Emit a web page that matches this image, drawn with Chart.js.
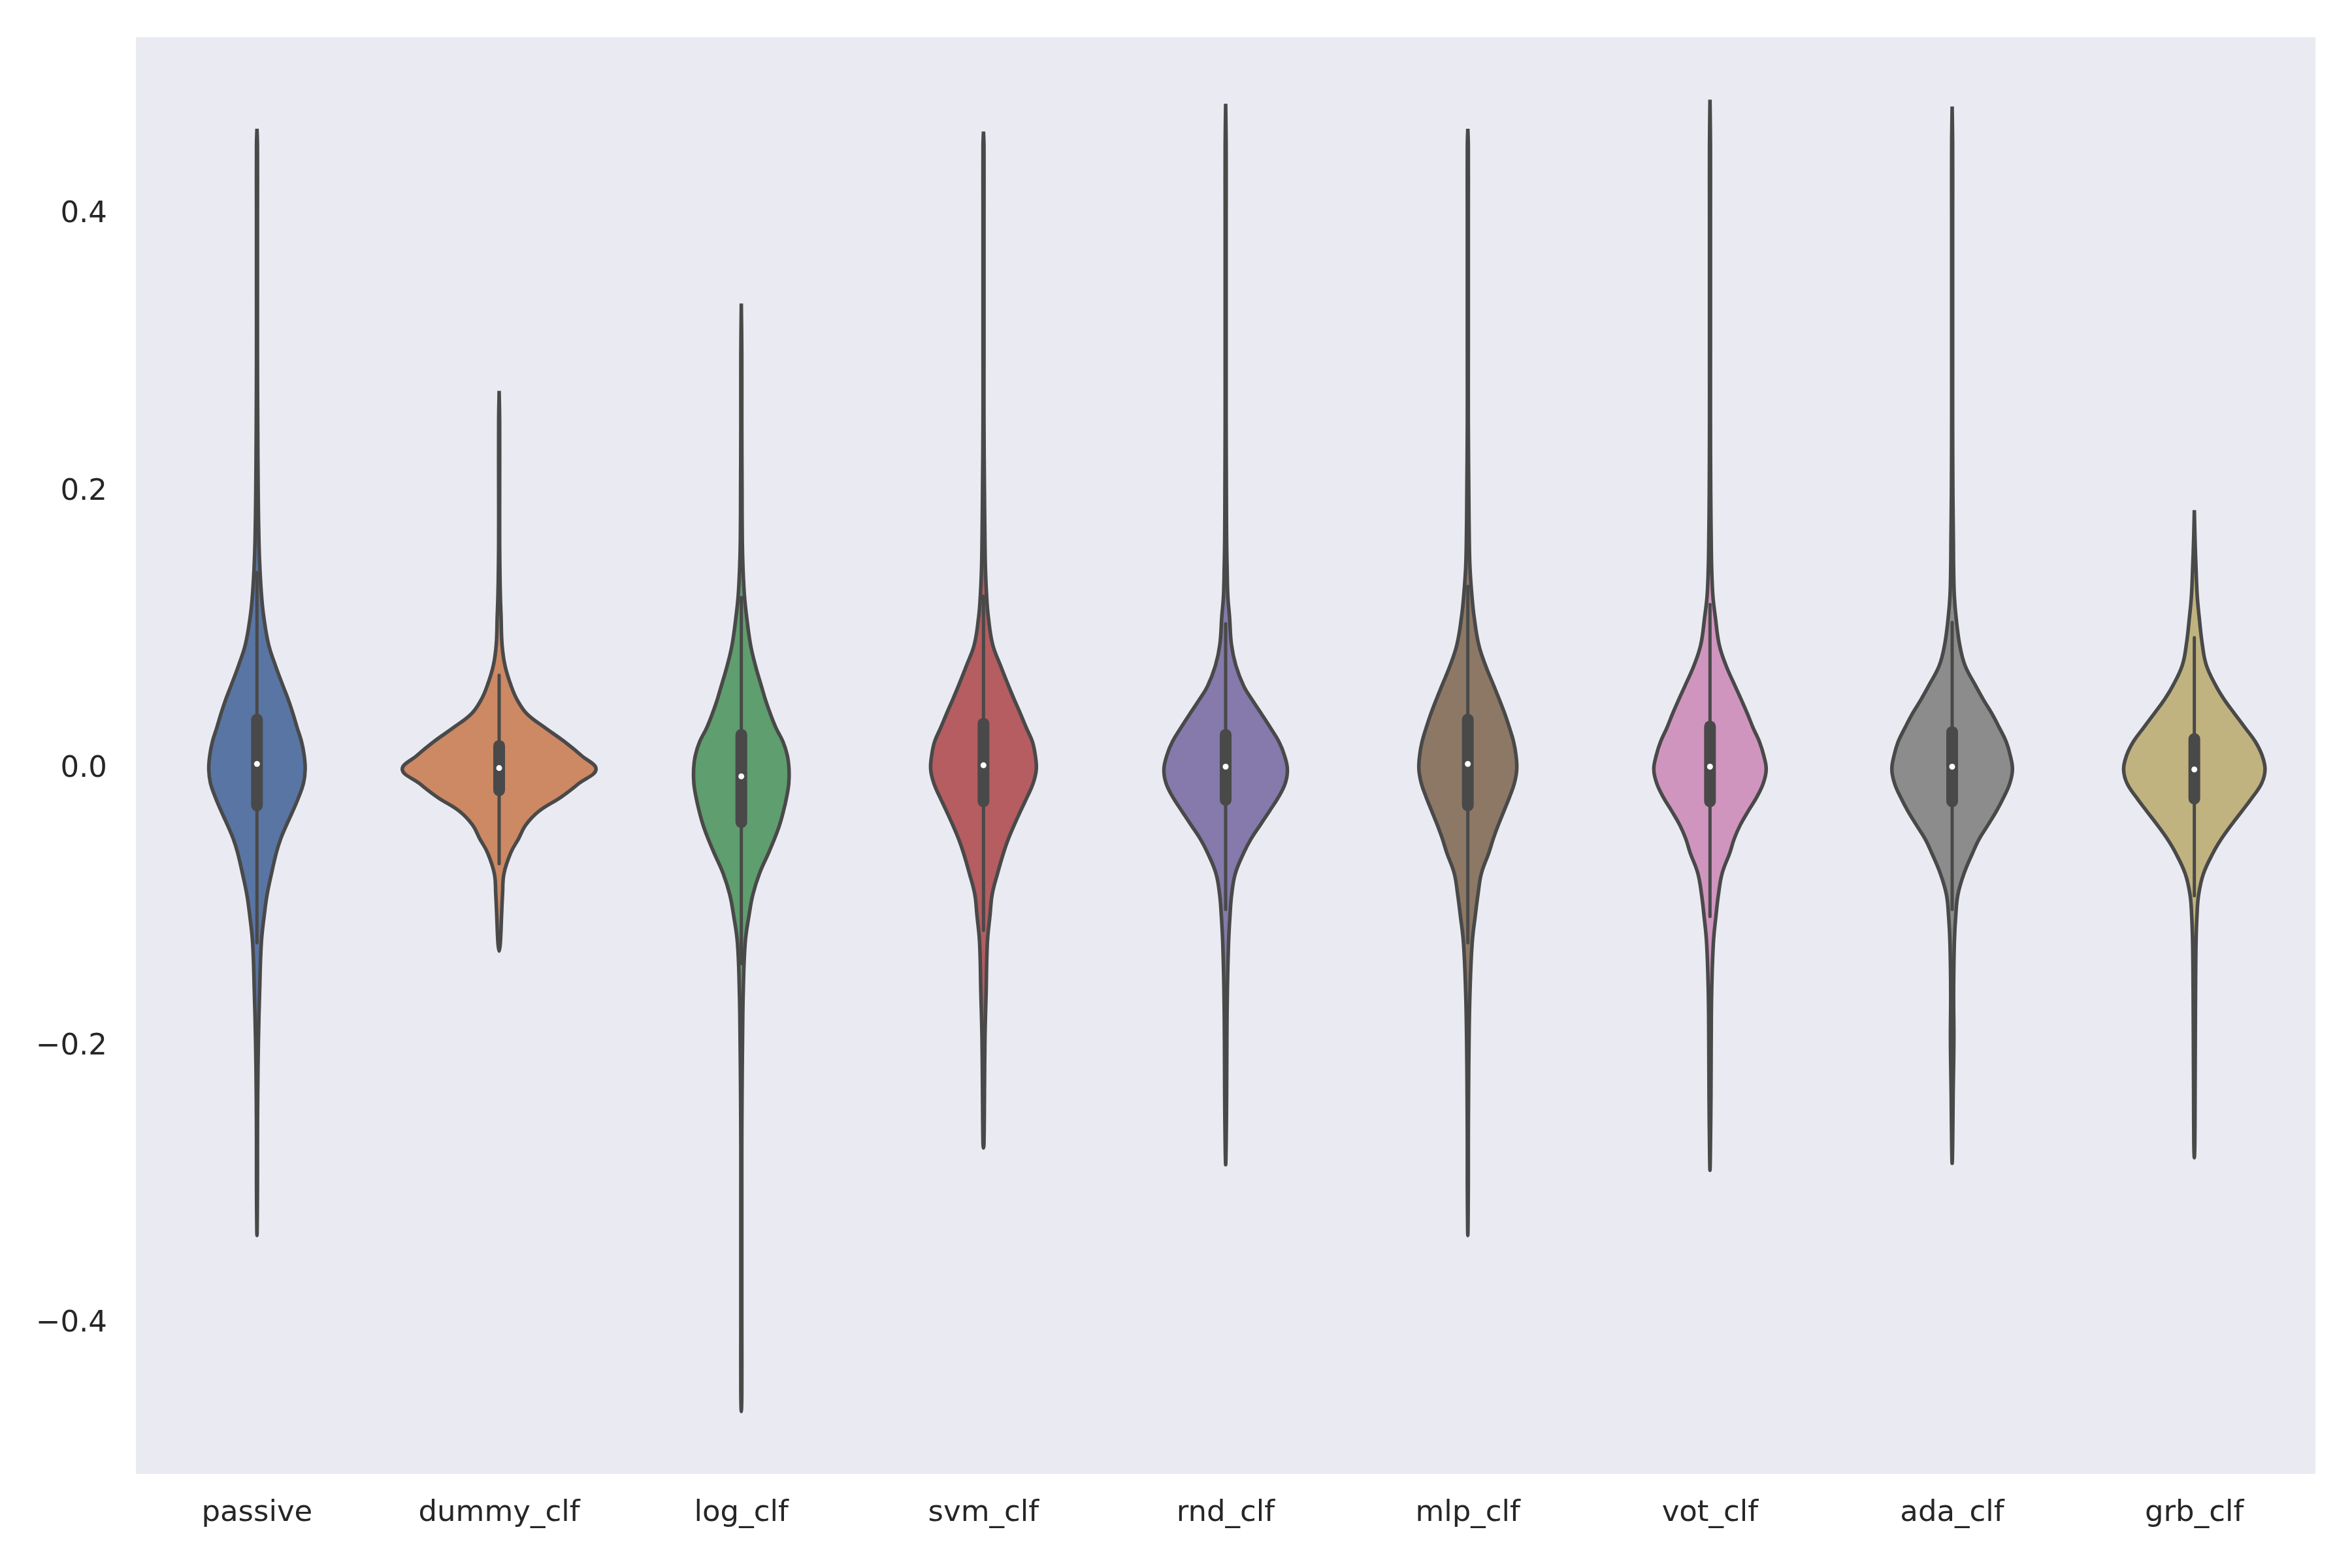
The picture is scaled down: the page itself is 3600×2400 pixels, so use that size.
<!DOCTYPE html>
<html>
<head>
<meta charset="utf-8">
<script src="https://cdn.jsdelivr.net/npm/chart.js@4.4.1/dist/chart.umd.min.js"></script>
<style>
  html, body { margin: 0; padding: 0; background: #ffffff; }
  canvas { display: block; }
</style>
</head>
<body>
<canvas id="c" width="3600" height="2400"></canvas>
<script>
// ---------- data ----------
const categories = ['passive', 'dummy_clf', 'log_clf', 'svm_clf', 'rnd_clf', 'mlp_clf', 'vot_clf', 'ada_clf', 'grb_clf'];

const yTicks = [-0.4, -0.2, 0.0, 0.2, 0.4];

// y levels at which the violin half-widths (in category units) were read
const densityLevels = [0.45, 0.40, 0.35, 0.30, 0.25, 0.20, 0.165, 0.145, 0.125, 0.11, 0.09, 0.075, 0.06, 0.05, 0.04, 0.03, 0.02, 0.01, 0.0,
  -0.01, -0.02, -0.03, -0.04, -0.05, -0.06, -0.075, -0.09, -0.105, -0.125, -0.16, -0.195, -0.235, -0.27, -0.30, -0.35, -0.40, -0.45];

const passiveWidth = [0.002,0.002,0.002,0.002,0.003,0.005,0.008,0.012,0.019,0.028,0.048,0.076,0.108,0.130,0.149,0.166,0.184,0.195,0.199,
  0.192,0.172,0.148,0.122,0.098,0.080,0.060,0.042,0.030,0.018,0.011,0.006,0.003,0.002,0.002,null,null,null];
const dummyWidth = [null,null,null,null,0.002,0.002,0.002,0.003,0.005,0.008,0.012,0.024,0.050,0.075,0.115,0.190,0.270,0.340,0.400,
  0.330,0.255,0.165,0.110,0.080,0.048,0.020,0.014,0.010,0.005,null,null,null,null,null,null,null,null];
const logWidth = [null,null,null,0.002,0.002,0.003,0.004,0.007,0.013,0.022,0.038,0.058,0.083,0.100,0.120,0.143,0.172,0.190,0.197,
  0.196,0.187,0.174,0.158,0.137,0.113,0.075,0.048,0.032,0.016,0.008,0.005,0.003,0.002,0.002,0.002,0.002,0.002];
const svmWidth = [0.002,0.002,0.002,0.002,0.002,0.004,0.006,0.008,0.013,0.020,0.038,0.070,0.104,0.128,0.153,0.177,0.202,0.214,0.218,
  0.205,0.180,0.153,0.127,0.103,0.083,0.058,0.036,0.027,0.016,0.011,0.006,0.004,0.002,null,null,null,null];
const rndWidth = [0.002,0.002,0.002,0.002,0.002,0.003,0.004,0.006,0.009,0.016,0.024,0.042,0.075,0.110,0.148,0.185,0.220,0.243,0.255,
  0.246,0.218,0.181,0.143,0.105,0.075,0.040,0.025,0.018,0.012,0.007,0.005,0.004,0.002,null,null,null,null];
const mlpWidth = [0.002,0.002,0.002,0.002,0.002,0.004,0.006,0.009,0.017,0.026,0.045,0.073,0.108,0.131,0.153,0.172,0.189,0.199,0.202,
  0.192,0.172,0.149,0.126,0.105,0.087,0.056,0.042,0.031,0.018,0.009,0.005,0.003,0.002,0.002,null,null,null];
const votWidth = [0.002,0.002,0.002,0.002,0.002,0.003,0.005,0.007,0.012,0.022,0.038,0.066,0.104,0.130,0.155,0.178,0.204,0.222,0.232,
  0.220,0.193,0.158,0.125,0.100,0.082,0.050,0.035,0.025,0.014,0.007,0.005,0.004,0.002,null,null,null,null];
const adaWidth = [0.002,0.002,0.002,0.002,0.002,0.003,0.005,0.006,0.009,0.016,0.031,0.053,0.098,0.130,0.165,0.195,0.223,0.240,0.249,
  0.238,0.213,0.183,0.148,0.112,0.085,0.049,0.024,0.015,0.009,0.006,0.007,0.004,0.002,null,null,null,null];
const grbWidth = [null,null,null,null,null,null,0.003,0.007,0.012,0.020,0.033,0.050,0.090,0.125,0.167,0.210,0.252,0.280,0.292,
  0.278,0.240,0.197,0.153,0.112,0.078,0.038,0.018,0.011,0.007,0.005,0.004,0.003,0.002,null,null,null,null];

const maxVals     = [0.462, 0.273, 0.336, 0.460, 0.480, 0.462, 0.483, 0.478, 0.187];
const minVals     = [-0.336, -0.131, -0.463, -0.273, -0.285, -0.336, -0.289, -0.284, -0.280];
const q1Vals      = [-0.026, -0.015, -0.038, -0.023, -0.022, -0.026, -0.023, -0.023, -0.021];
const medianVals  = [0.004, 0.001, -0.005, 0.003, 0.002, 0.004, 0.002, 0.002, 0.000];
const q3Vals      = [0.036, 0.017, 0.025, 0.033, 0.025, 0.036, 0.031, 0.027, 0.022];
const whiskerLow  = [-0.125, -0.068, -0.140, -0.116, -0.101, -0.125, -0.106, -0.101, -0.091];
const whiskerHigh = [0.142, 0.068, 0.124, 0.125, 0.105, 0.132, 0.119, 0.106, 0.095];

const violinWidths = [passiveWidth, dummyWidth, logWidth, svmWidth, rndWidth, mlpWidth, votWidth, adaWidth, grbWidth];

// ---------- styles ----------
const fillColors = ['#5975a4', '#cc8963', '#5f9e6e', '#b55d60', '#857aab', '#8d7866', '#d095bf', '#8c8c8c', '#c1b37f'];
const lineGray = '#494949';
const textColor = '#262626';
const fontFamily = '"DejaVu Sans", "Liberation Sans", sans-serif';

// ---------- build datasets ----------
const datasets = [];
categories.forEach((name, i) => {
  const w = violinWidths[i];
  const top = { x: i, y: maxVals[i] };
  const bottom = { x: i, y: minVals[i] };
  const rightSide = [];
  densityLevels.forEach((lv, k) => {
    if (w[k] !== null && lv < maxVals[i] && lv > minVals[i]) rightSide.push({ x: i + w[k], y: lv });
  });
  const leftSide = rightSide.map(p => ({ x: 2 * i - p.x, y: p.y })).reverse();
  const poly = [top].concat(rightSide, [bottom], leftSide, [{ x: i, y: maxVals[i] }]);
  datasets.push({
    label: name,
    data: poly,
    fill: 'shape',
    backgroundColor: fillColors[i],
    borderColor: lineGray,
    borderWidth: 5.5,
    borderJoinStyle: 'round',
    pointRadius: 0,
    tension: 0.4,
    order: 3
  });
});
categories.forEach((name, i) => {
  datasets.push({
    label: name + ' whisker',
    data: [{ x: i, y: whiskerLow[i] }, { x: i, y: whiskerHigh[i] }],
    borderColor: lineGray,
    borderWidth: 5,
    borderCapStyle: 'round',
    pointRadius: 0,
    fill: false,
    order: 2
  });
  datasets.push({
    label: name + ' box',
    data: [{ x: i, y: q1Vals[i] }, { x: i, y: q3Vals[i] }],
    borderColor: lineGray,
    borderWidth: 18,
    borderCapStyle: 'round',
    pointRadius: 0,
    fill: false,
    order: 1
  });
});
datasets.push({
  label: 'median',
  data: categories.map((n, i) => ({ x: i, y: medianVals[i] })),
  showLine: false,
  pointRadius: 4.5,
  pointBackgroundColor: '#ffffff',
  pointBorderWidth: 0,
  order: 0
});

const plotBackground = {
  id: 'plotBackground',
  beforeDraw(chart) {
    const { ctx, chartArea } = chart;
    ctx.save();
    ctx.fillStyle = '#eaeaf2';
    ctx.fillRect(chartArea.left, chartArea.top, chartArea.right - chartArea.left, chartArea.bottom - chartArea.top);
    ctx.restore();
  }
};

function fmt(v) {
  const s = Math.abs(v).toFixed(1);
  return v < -1e-9 ? '\u2212' + s : s;
}

new Chart(document.getElementById('c'), {
  type: 'line',
  data: { datasets },
  options: {
    responsive: false,
    devicePixelRatio: 1,
    animation: false,
    layout: { padding: { top: 57, right: 56, left: 0, bottom: 0 } },
    plugins: { legend: { display: false }, tooltip: { enabled: false } },
    scales: {
      x: {
        type: 'linear',
        min: -0.5,
        max: 8.5,
        afterBuildTicks: (axis) => { axis.ticks = categories.map((c, i) => ({ value: i })); },
        afterFit: (scale) => { scale.height = 144; scale.paddingLeft = 0; scale.paddingRight = 0; },
        grid: { display: false, drawTicks: false },
        border: { display: false },
        ticks: {
          callback: (v) => categories[Math.round(v)],
          font: { family: fontFamily, size: 45 },
          color: textColor,
          padding: 33,
          maxRotation: 0,
          autoSkip: false
        }
      },
      y: {
        type: 'linear',
        min: -0.508,
        max: 0.528,
        afterBuildTicks: (axis) => { axis.ticks = yTicks.map(v => ({ value: v })); },
        afterFit: (scale) => { scale.width = 208; scale.paddingTop = 0; scale.paddingBottom = 0; },
        grid: { display: false, drawTicks: false },
        border: { display: false },
        ticks: {
          callback: (v) => fmt(v),
          font: { family: fontFamily, size: 45 },
          color: textColor,
          padding: 44
        }
      }
    }
  },
  plugins: [plotBackground]
});
</script>
</body>
</html>
